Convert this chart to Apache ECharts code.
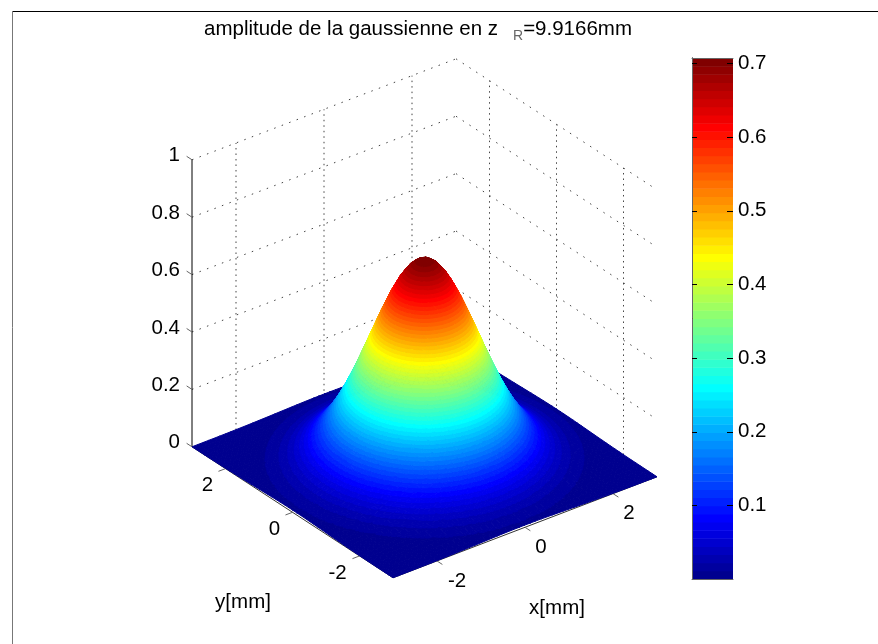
<!DOCTYPE html>
<html lang="en">
<head>
    <meta charset="UTF-8">
    <title>amplitude de la gaussienne</title>
    <script src="https://cdn.jsdelivr.net/npm/echarts@6/dist/echarts.min.js"></script>
    <style>
        html, body { margin: 0; padding: 0; background: #fff; }
    </style>
</head>
<body>
<div id="chart" style="width:878px;height:644px"></div>
<script>
    // amplitude, step 0.125 mm, surface is round so only one
    // octant is kept: zOctant[a][b - a] with a = min(|x|,|y|) and b = max(|x|,|y|) in steps
    const gridStep = 0.125;
    const zOctant = [
        [.7071, .7016, .6853, .6591, .6240, .5816, .5337, .4822, .4289, .3755, .3237, .2747, .2296, .1888, .1529, .1219, .0957, .0739, .0563, .0421, .0311, .0226, .0161, .0113, .0079],
        [.6961, .6800, .6540, .6191, .5771, .5295, .4784, .4256, .3726, .3212, .2726, .2278, .1873, .1517, .1210, .0950, .0733, .0559, .0418, .0309, .0224, .0160, .0112, .0078],
        [.6642, .6388, .6048, .5637, .5173, .4674, .4157, .3639, .3137, .2662, .2225, .1830, .1482, .1181, .0928, .0716, .0546, .0408, .0301, .0219, .0156, .0110, .0077],
        [.6143, .5816, .5421, .4975, .4495, .3998, .3500, .3017, .2560, .2140, .1760, .1425, .1136, .0892, .0689, .0525, .0392, .0290, .0211, .0150, .0105, .0074],
        [.5507, .5133, .4710, .4255, .3785, .3314, .2857, .2424, .2026, .1666, .1349, .1076, .0845, .0652, .0497, .0372, .0274, .0199, .0142, .0100, .0070],
        [.4784, .4390, .3966, .3528, .3089, .2663, .2260, .1889, .1553, .1258, .1003, .0787, .0608, .0463, .0346, .0256, .0186, .0132, .0093, .0065],
        [.4029, .3640, .3237, .2834, .2443, .2074, .1733, .1425, .1154, .0920, .0722, .0558, .0425, .0318, .0235, .0171, .0122, .0085, .0060],
        [.3288, .2925, .2561, .2207, .1873, .1566, .1287, .1043, .0831, .0653, .0504, .0384, .0287, .0212, .0154, .0110, .0077, .0054],
        [.2601, .2278, .1963, .1666, .1393, .1145, .0927, .0739, .0580, .0448, .0341, .0255, .0189, .0137, .0098, .0069, .0048],
        [.1994, .1719, .1459, .1219, .1003, .0812, .0647, .0508, .0392, .0299, .0224, .0165, .0120, .0086, .0060, .0042],
        [.1482, .1258, .1051, .0864, .0700, .0558, .0438, .0338, .0258, .0193, .0142, .0103, .0074, .0052, .0036],
        [.1067, .0892, .0734, .0594, .0474, .0372, .0287, .0219, .0164, .0121, .0088, .0063, .0044, .0031],
        [.0745, .0613, .0496, .0396, .0311, .0240, .0183, .0137, .0101, .0073, .0052, .0037, .0026],
        [.0504, .0408, .0326, .0256, .0197, .0150, .0112, .0083, .0060, .0043, .0030, .0021],
        [.0331, .0264, .0207, .0160, .0122, .0091, .0067, .0049, .0035, .0024, .0017],
        [.0210, .0165, .0127, .0097, .0073, .0054, .0039, .0028, .0019, .0014],
        [.0130, .0100, .0076, .0057, .0042, .0031, .0022, .0015, .0011],
        [.0077, .0059, .0044, .0033, .0024, .0017, .0012, .0008],
        [.0045, .0033, .0025, .0018, .0013, .0009, .0006],
        [.0025, .0019, .0013, .0010, .0007, .0005],
        [.0014, .0010, .0007, .0005, .0003],
        [.0007, .0005, .0004, .0003],
        [.0004, .0003, .0002],
        [.0002, .0001],
        [.0001]
    ];
    const xTicks = [-2, 0, 2];
    const yTicks = [-2, 0, 2];
    const zTicks = [0, 0.2, 0.4, 0.6, 0.8, 1];
    const zTickLabels = ['0', '0.2', '0.4', '0.6', '0.8', '1'];
    const colorbarTicks = [0.1, 0.2, 0.3, 0.4, 0.5, 0.6, 0.7];
    const colorMin = 0.0001;
    const colorMax = 0.7071;
    const axisRange = 3;

    const FONT = '"Liberation Sans", Arial, sans-serif';
    const N = zOctant.length - 1;

    // view of the box, same as the matlab orthographic one
    const origin = [424.5, 461.8];
    const ex = [44, -16.83];
    const ey = [-33.5, -21.83];
    const ez = [0, -287];
    function project(x, y, z) {
        return [
            origin[0] + x * ex[0] + y * ey[0] + z * ez[0],
            origin[1] + x * ex[1] + y * ey[1] + z * ez[1]
        ];
    }

    // jet(64)
    const jet = [];
    for (let k = 0; k < 64; k++) {
        let t = (k + 1) / 64;
        let c = d => Math.round(255 * Math.min(1, Math.max(0, 1.5 - Math.abs(4 * t - d))));
        jet.push('rgb(' + c(3) + ',' + c(2) + ',' + c(1) + ')');
    }
    const bandStep = (colorMax - colorMin) / 64;
    function bandOf(v) {
        return Math.max(0, Math.min(63, Math.floor((v - colorMin) / bandStep)));
    }

    function zAt(i, j) {
        let a = Math.abs(i - N), b = Math.abs(j - N);
        return zOctant[Math.min(a, b)][Math.abs(a - b)];
    }
    function corner(i, j) {
        return { x: (i - N) * gridStep, y: (j - N) * gridStep, v: zAt(i, j) };
    }

    // back to front so the near cells cover the far ones
    const cells = [];
    for (let i = 2 * N - 1; i >= 0; i--) {
        for (let j = 2 * N - 1; j >= 0; j--) {
            cells.push([i, j]);
        }
    }

    // keep the part of a polygon on one side of the level (sign 1: above, -1: below)
    function clipLevel(poly, level, sign) {
        let out = [];
        for (let n = 0; n < poly.length; n++) {
            let p = poly[n], q = poly[(n + 1) % poly.length];
            let dp = (p.v - level) * sign, dq = (q.v - level) * sign;
            if (dp >= 0) out.push(p);
            if ((dp > 0 && dq < 0) || (dp < 0 && dq > 0)) {
                let t = dp / (dp - dq);
                out.push({ x: p.x + (q.x - p.x) * t, y: p.y + (q.y - p.y) * t, v: level });
            }
        }
        return out;
    }

    function renderCell(params, api) {
        let i = api.value(0), j = api.value(1);
        let a = corner(i, j), b = corner(i + 1, j), c = corner(i + 1, j + 1), d = corner(i, j + 1);
        let children = [];
        let addPoly = (poly, band) => {
            children.push({
                type: 'polygon',
                silent: true,
                shape: { points: poly.map(p => api.coord(project(p.x, p.y, p.v))) },
                style: { fill: jet[band], stroke: jet[band], lineWidth: 1, lineJoin: 'round' }
            });
        };
        let lo0 = bandOf(Math.min(a.v, b.v, c.v, d.v)), hi0 = bandOf(Math.max(a.v, b.v, c.v, d.v));
        if (lo0 === hi0) {
            addPoly([a, b, c, d], lo0);
        } else {
            // far triangle first, then one piece per colormap band
            [[b, c, d], [a, b, d]].forEach(tri => {
                let lo = bandOf(Math.min(tri[0].v, tri[1].v, tri[2].v));
                let hi = bandOf(Math.max(tri[0].v, tri[1].v, tri[2].v));
                for (let k = lo; k <= hi; k++) {
                    let poly = tri;
                    if (k > lo) poly = clipLevel(poly, colorMin + k * bandStep, 1);
                    if (k < hi) poly = clipLevel(poly, colorMin + (k + 1) * bandStep, -1);
                    if (poly.length > 2) addPoly(poly, k);
                }
            });
        }
        return { type: 'group', children: children };
    }

    // dotted walls, axis lines and ticks: [x0,y0,z0,x1,y1,z1,kind]
    const R = axisRange;
    const boxLines = [];
    zTicks.slice(1).forEach(z => {
        boxLines.push([-R, R, z, R, R, z, 0]);
        boxLines.push([R, R, z, R, -R, z, 0]);
    });
    xTicks.forEach(x => boxLines.push([x, R, 0, x, R, 1, 1]));
    yTicks.forEach(y => boxLines.push([R, y, 0, R, y, 1, 1]));
    boxLines.push([-R, R, 0, -R, R, 1, 2]);
    boxLines.push([-R, -R, 0, R, -R, 0, 3]);
    boxLines.push([-R, -R, 0, -R, R, 0, 3]);
    xTicks.forEach(x => boxLines.push([x, -R, 0, x, -R - 0.16, 0, 4]));
    yTicks.forEach(y => boxLines.push([-R, y, 0, -R - 0.16, y, 0, 4]));
    zTicks.forEach(z => boxLines.push([-R, R, z, -R, R + 0.16, z, 4]));

    const lineStyles = [
        { stroke: '#444', lineWidth: 1, lineDash: [1.5, 6.5] },
        { stroke: '#444', lineWidth: 1, lineDash: [1.5, 4] },
        { stroke: '#000', lineWidth: 1 },
        { stroke: '#333', lineWidth: 1 },
        { stroke: '#666', lineWidth: 1 }
    ];

    function renderBoxLine(params, api) {
        let a = api.coord(project(api.value(0), api.value(1), api.value(2)));
        let b = api.coord(project(api.value(3), api.value(4), api.value(5)));
        return {
            type: 'line',
            silent: true,
            shape: { x1: a[0], y1: a[1], x2: b[0], y2: b[1] },
            style: lineStyles[api.value(6)]
        };
    }

    // tick labels: [x, y, z, text, dx, dy, align]
    const tickLabels = [];
    xTicks.forEach(x => tickLabels.push([x, -R, 0, String(x), x < 0 ? 20 : 16, 20, 'center']));
    yTicks.forEach(y => tickLabels.push([-R, y, 0, String(y), y < 0 ? -22 : -18, 17, 'center']));
    zTicks.forEach((z, n) => tickLabels.push([-R, R, z, zTickLabels[n], -12, -4, 'right']));

    function renderTickLabel(params, api) {
        let p = api.coord(project(api.value(0), api.value(1), api.value(2)));
        let row = tickLabels[params.dataIndex];
        return {
            type: 'text',
            silent: true,
            style: {
                x: p[0] + row[4], y: p[1] + row[5], text: row[3], fill: '#000',
                font: '20.5px ' + FONT, align: row[6], verticalAlign: 'middle'
            }
        };
    }

    // colorbar: one rect per colormap band, ticks inside on both sides
    const bandIndex = jet.map((c, k) => k);
    function renderBand(params, api) {
        let k = api.value(0);
        let a = api.coord([0, colorMin + k * bandStep]);
        let b = api.coord([1, colorMin + (k + 1) * bandStep]);
        return {
            type: 'rect',
            silent: true,
            shape: { x: a[0], y: b[1], width: b[0] - a[0], height: a[1] - b[1] + 0.5 },
            style: { fill: jet[k] }
        };
    }
    function renderBarTick(params, api) {
        let v = api.value(0);
        let a = api.coord([0, v]), b = api.coord([1, v]);
        let y = Math.round(a[1]) + 0.5;
        return {
            type: 'group',
            silent: true,
            children: [
                { type: 'line', shape: { x1: a[0], y1: y, x2: a[0] + 5, y2: y }, style: { stroke: '#000', lineWidth: 1 } },
                { type: 'line', shape: { x1: b[0] - 6, y1: y, x2: b[0], y2: y }, style: { stroke: '#000', lineWidth: 1 } }
            ]
        };
    }

    let myChart = echarts.init(document.getElementById('chart'));
    let option = {
        animation: false,
        backgroundColor: '#fff',
        title: {
            left: 199,
            top: 12,
            text: '{a|amplitude de la gaussienne en z}{r|R}{a|=9.9166mm}',
            textStyle: {
                rich: {
                    a: { fontFamily: FONT, fontSize: 20.5, fontWeight: 'normal', color: '#000', lineHeight: 24 },
                    r: { fontFamily: FONT, fontSize: 14, fontWeight: 'normal', color: '#666', padding: [15, 0, 0, 15], lineHeight: 24 }
                }
            }
        },
        graphic: [
            { type: 'line', shape: { x1: 12, y1: 11.5, x2: 878, y2: 11.5 }, style: { stroke: '#000', lineWidth: 1 } },
            { type: 'line', shape: { x1: 12.5, y1: 11, x2: 12.5, y2: 644 }, style: { stroke: '#777', lineWidth: 1 } },
            { type: 'text', style: { x: 243, y: 602, text: 'y[mm]', fill: '#000', font: '20.5px ' + FONT, align: 'center', verticalAlign: 'middle' } },
            { type: 'text', style: { x: 557, y: 608, text: 'x[mm]', fill: '#000', font: '20.5px ' + FONT, align: 'center', verticalAlign: 'middle' } }
        ],
        grid: [
            { left: 0, top: 0, width: 878, height: 644 },
            { left: 692, top: 58, width: 41, height: 521 }
        ],
        xAxis: [
            { gridIndex: 0, type: 'value', min: 0, max: 878, show: false },
            {
                gridIndex: 1, type: 'value', min: 0, max: 1, position: 'bottom', z: 5,
                axisLine: { show: true, lineStyle: { color: '#666' } },
                axisTick: { show: false }, axisLabel: { show: false }, splitLine: { show: false }
            },
            {
                gridIndex: 1, type: 'value', min: 0, max: 1, position: 'top', z: 5,
                axisLine: { show: true, lineStyle: { color: '#666' } },
                axisTick: { show: false }, axisLabel: { show: false }, splitLine: { show: false }
            }
        ],
        yAxis: [
            { gridIndex: 0, type: 'value', min: 0, max: 644, inverse: true, show: false },
            {
                gridIndex: 1, type: 'value', min: colorMin, max: colorMax, position: 'right', z: 5,
                axisLine: { show: true, lineStyle: { color: '#000' } },
                axisTick: { show: false },
                axisLabel: {
                    show: true, margin: 5, color: '#000', fontFamily: FONT, fontSize: 20.5,
                    padding: [4, 0, 0, 0],
                    customValues: colorbarTicks, formatter: v => String(Math.round(v * 10) / 10)
                },
                splitLine: { show: false }
            },
            {
                gridIndex: 1, type: 'value', min: colorMin, max: colorMax, position: 'left', z: 5,
                axisLine: { show: true, lineStyle: { color: '#666' } },
                axisTick: { show: false },
                axisLabel: { show: false },
                splitLine: { show: false }
            }
        ],
        series: [
            {
                type: 'custom', name: 'box', coordinateSystem: 'cartesian2d', xAxisIndex: 0, yAxisIndex: 0, z: 1,
                renderItem: renderBoxLine, data: boxLines, silent: true
            },
            {
                type: 'custom', name: 'surface', coordinateSystem: 'cartesian2d', xAxisIndex: 0, yAxisIndex: 0, z: 2,
                renderItem: renderCell, data: cells, silent: true
            },
            {
                type: 'custom', name: 'ticks', coordinateSystem: 'cartesian2d', xAxisIndex: 0, yAxisIndex: 0, z: 3,
                renderItem: renderTickLabel, data: tickLabels.map(r => r.slice(0, 3)), silent: true
            },
            {
                type: 'custom', name: 'colorbar', coordinateSystem: 'cartesian2d', xAxisIndex: 1, yAxisIndex: 1, z: 2,
                renderItem: renderBand, data: bandIndex.map(k => [k]), encode: { x: [], y: [] }, silent: true
            },
            {
                type: 'custom', name: 'colorbarTicks', coordinateSystem: 'cartesian2d', xAxisIndex: 1, yAxisIndex: 1, z: 6,
                renderItem: renderBarTick, data: colorbarTicks.map(v => [v]), encode: { x: [], y: [] }, silent: true
            }
        ]
    };
    myChart.setOption(option);
</script>
</body>
</html>
